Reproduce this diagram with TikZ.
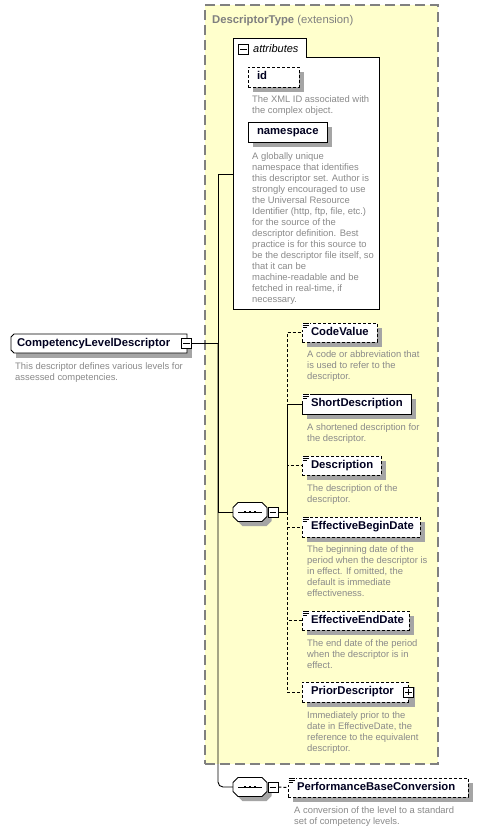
\documentclass[tikz,border=0pt]{standalone}
\usepackage{fontspec}
\setmainfont{Liberation Sans}
\definecolor{ylw}{RGB}{255,255,204}
\definecolor{cgray}{RGB}{128,128,128}
\definecolor{dgray}{RGB}{138,138,138}
\definecolor{shgray}{RGB}{165,165,165}
\definecolor{lblc}{RGB}{0,0,32}
\tikzset{
  elem/.style={draw=black, fill=white, line width=0.9pt,
    font=\fontsize{11.3}{13}\selectfont\bfseries, text=lblc,
    text height=8.2pt, text depth=2.4pt},
  opt/.style={dash pattern=on 3pt off 2pt},
  descr/.style={anchor=north west, align=left, inner sep=0pt, text=dgray,
    font=\fontsize{9.4}{11}\selectfont},
  expbox/.style={draw=black, fill=white, line width=0.9pt, minimum size=10pt, inner sep=0pt},
  seqbox/.style={draw=none, minimum width=34pt, minimum height=19pt, inner sep=0pt},
  outline/.style={draw=black, fill=white, line width=0.9pt},
  shadowfill/.style={fill=shgray},
  conn/.style={line width=0.9pt, black},
  container/.style={draw=cgray, fill=ylw, line width=1.3pt, dash pattern=on 10pt off 5pt,
    inner sep=0pt}
}
\newcommand\shad[4]{\fill[shadowfill] (#1+4.5,#2+4.5) rectangle (#3+4.5,#4+4.5);}
% optional xsep; name; l; t; r; b; extra style; text
\newcommand\elemn[8][9]{%
  \pgfmathsetmacro\ew{#5-#3}\pgfmathsetmacro\eh{#6-#4}\pgfmathsetmacro\tw{#5-#3-2*#1}%
  \node[elem, #7, minimum width=\ew pt, minimum height=\eh pt, inner xsep=#1pt, inner ysep=0pt]
    (#2) at ({(#3+#5)/2},{(#4+#6)/2}) {\makebox[\tw pt][l]{#8}};}
\newcommand\dsc[4]{\node[descr] (#1) at (#2,#3-8) {\rule{0pt}{8pt}#4};}
\newcommand\icon[1]{%
  \fill[white] ([xshift=0.5pt,yshift=-0.5pt]#1.north west) rectangle ++(7.5,6.5);
  \draw[line width=0.7pt] ([xshift=1pt,yshift=-1.2pt]#1.north west) -- ++(6,0)
    ([xshift=1pt,yshift=-3.2pt]#1.north west) -- ++(6,0)
    ([xshift=1pt,yshift=-5.2pt]#1.north west) -- ++(4,0);}
\newcommand\minus[1]{\draw[line width=0.9pt] ([xshift=2pt]#1.west) -- ([xshift=-2pt]#1.east);}
\newcommand\plus[1]{\draw[line width=0.9pt] ([xshift=2pt]#1.west) -- ([xshift=-2pt]#1.east)
  ([yshift=-2pt]#1.north) -- ([yshift=2pt]#1.south);}
% octagon: left, top, right, bottom, chamfer
\newcommand\octa[6][outline]{%
  \path[#1] (#2+#6,#3) -- (#4-#6,#3) -- (#4,#3+#6) -- (#4,#5-#6) -- (#4-#6,#5)
    -- (#2+#6,#5) -- (#2,#5-#6) -- (#2,#3+#6) -- cycle;}
\begin{document}
\begin{tikzpicture}[x=1pt,y=-1pt]
\useasboundingbox[fill=white] (0,0) rectangle (495,831);
% extension container
\node[container, minimum width=233pt, minimum height=759pt] (ext) at (321.5,384.5) {};
\node[anchor=base west, inner sep=0pt, text=cgray, font=\fontsize{11.3}{13}\selectfont]
  (title) at (212,23) {\textbf{DescriptorType} (extension)};
% attributes box
\draw[fill=white, line width=0.9pt] (233,309) -- (233,38) -- (306,38) -- (306,57)
  -- (379,57) -- (379,309) -- cycle;
\node[expbox] (attrm) at (243.5,49) {};
\minus{attrm}
\node[anchor=base west, inner sep=0pt, font=\fontsize{11}{13}\selectfont\itshape]
  (attrl) at (253,52.5) {attributes};
\coordinate (attrc) at (233,174);
\shad{248}{67}{299}{87}
\elemn{id}{248}{67}{299}{87}{opt}{id}
\dsc{idd}{252}{102}{The XML ID associated with\\the complex object.}
\shad{248}{122}{327}{142}
\elemn{ns}{248}{122}{327}{142}{}{namespace}
\dsc{nsd}{252}{159}{A globally unique\\namespace that identifies\\this descriptor set. Author is\\strongly encouraged to use\\the Universal Resource\\Identifier (http, ftp, file, etc.)\\for the source of the\\descriptor definition. Best\\practice is for this source to\\be the descriptor file itself, so\\that it can be\\machine-readable and be\\fetched in real-time, if\\necessary.}
% main element (chamfered left corners)
\shad{11}{334}{187}{353}
\path[outline] (14,334) -- (187,334) -- (187,353) -- (14,353) -- (11,350) -- (11,337) -- cycle;
\elemn[6]{main}{11}{334}{187}{353}{draw=none, fill=none}{CompetencyLevelDescriptor}
\node[expbox] (mainm) at (186.5,343.5) {};
\minus{mainm}
\dsc{maind}{15}{369}{This descriptor defines various levels for\\assessed competencies.}
% sequences
\octa[shadowfill]{237.5}{507}{271.5}{526}{5}
\octa{233}{502.5}{267}{521.5}{5}
\node[seqbox] (s1) at (250,512) {};
\node[expbox] (s1m) at (273,512) {};
\minus{s1m}
\octa[shadowfill]{237.5}{782}{271.5}{801}{5}
\octa{233}{777.5}{267}{796.5}{5}
\node[seqbox] (s2) at (250,787) {};
\node[expbox] (s2m) at (273,787) {};
\minus{s2m}
\foreach \s in {s1,s2}{
  \draw[line width=0.9pt] ([xshift=-12pt]\s.center) -- ([xshift=12pt]\s.center);
  \foreach \dx in {-5,0,5}
    \fill ([xshift=\dx pt-1.4pt, yshift=-1.4pt]\s.center) rectangle ++(2.8,-2.8);
}
% children
\shad{302}{323}{377}{342}
\elemn{cv}{302}{323}{377}{342}{opt}{CodeValue}
\icon{cv}
\dsc{cvd}{307}{357.5}{A code or abbreviation that\\is used to refer to the\\descriptor.}
\shad{302}{394}{411}{414}
\elemn{sd}{302}{394}{411}{414}{}{ShortDescription}
\icon{sd}
\dsc{sdd}{307}{430}{A shortened description for\\the descriptor.}
\shad{302}{456}{381}{475}
\elemn{de}{302}{456}{381}{475}{opt}{Description}
\icon{de}
\dsc{ded}{307}{491}{The description of the\\descriptor.}
\shad{302}{517}{420}{537}
\elemn{ebd}{302}{517}{420}{537}{opt}{EffectiveBeginDate}
\icon{ebd}
\dsc{ebdd}{307}{552}{The beginning date of the\\period when the descriptor is\\in effect. If omitted, the\\default is immediate\\effectiveness.}
\shad{302}{611}{409}{630}
\elemn{eed}{302}{611}{409}{630}{opt}{EffectiveEndDate}
\icon{eed}
\dsc{eedd}{307}{646}{The end date of the period\\when the descriptor is in\\effect.}
\shad{302}{682}{410}{702}
\elemn{pd}{302}{682}{408}{702}{opt}{PriorDescriptor}
\node[expbox] (pdp) at (408.5,692) {};
\plus{pdp}
\dsc{pdd}{307}{718}{Immediately prior to the\\date in EffectiveDate, the\\reference to the equivalent\\descriptor.}
\shad{288}{778}{468}{797}
\elemn{pbc}{288}{778}{468}{797}{opt}{PerformanceBaseConversion}
\icon{pbc}
\dsc{pbcd}{294}{813}{A conversion of the level to a standard\\set of competency levels.}
% connectors
\coordinate (bus) at (218,343.5);
\coordinate (cb) at (287,512);
\draw[conn] (mainm.east) -- (bus);
\draw[conn] (attrc) -| (bus);
\draw[conn] (bus) |- (s1.west);
\draw[conn, rounded corners=5pt] (bus) |- (s2.west);
\draw[conn] (s1m.east) -- (cb) |- (sd.west);
\draw[conn, opt] (cb) |- (cv.west);
\draw[conn, opt] (cb) |- (de.west);
\draw[conn, opt] (cb) |- (ebd.west);
\draw[conn, opt] (cb) |- (eed.west);
\draw[conn, opt] (cb) |- (pd.west);
\draw[conn, opt] (s2m.east) -- (pbc.west);
\end{tikzpicture}
\end{document}
